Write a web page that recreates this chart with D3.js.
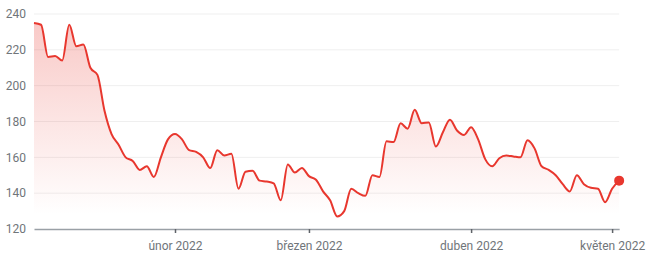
<!DOCTYPE html>
<html>
<head>
<meta charset="utf-8">
<script src="https://cdn.jsdelivr.net/npm/d3@7"></script>
<style>
  html, body { margin: 0; padding: 0; background: #fff; }
  svg { display: block; }
  text { font-family: Roboto, "Noto Sans", sans-serif; }
</style>
</head>
<body>
<svg id="chart" width="650" height="260"></svg>
<script>
// Daily closing values (trading days, 3 Jan 2022 .. 3 May 2022)
const values = [
  235, 234, 216, 216.5, 214, 234, 222, 223, 210, 206,
  186, 173, 167, 160, 158, 153, 155, 149, 160, 170,
  173, 170, 164, 163, 160, 154, 164, 161, 162, 142.5,
  152, 152.5, 147, 146.5, 145.5, 136, 156, 151.5, 154, 149.5,
  147.5, 141, 136, 127, 130, 142.5, 140, 138.5, 150, 149,
  169, 168.5, 179, 176, 186.5, 179, 179.5, 166, 174, 181,
  175, 172.5, 176.8, 170, 159, 155, 159.5, 161, 160.5, 160,
  169.5, 165, 155, 153, 150, 145, 141, 150, 145, 143,
  142.5, 135, 142.5, 147
];
// Month tick labels and the trading-day index where each month starts
const tickLabels = ["únor 2022", "březen 2022", "duben 2022", "květen 2022"];
const tickIndex = [20, 39, 62, 82];
const yTicks = [120, 140, 160, 180, 200, 220, 240];

const svg = d3.select("#chart");
const mLeft = 34, mRight = 619.15, mTop = 14, mBottom = 229;
const red = "#e8372e";

const x = d3.scaleLinear().domain([0, values.length - 1]).range([mLeft, mRight]);
const y = d3.scaleLinear().domain([120, 240]).range([mBottom, mTop]);

// gradient
const defs = svg.append("defs");
const grad = defs.append("linearGradient")
  .attr("id", "fillGrad")
  .attr("gradientUnits", "userSpaceOnUse")
  .attr("x1", 0).attr("x2", 0)
  .attr("y1", y(240)).attr("y2", y(128));
grad.append("stop").attr("offset", 0).attr("stop-color", red).attr("stop-opacity", 0.28);
grad.append("stop").attr("offset", 1).attr("stop-color", red).attr("stop-opacity", 0.0);

// grid lines
svg.append("g")
  .selectAll("line")
  .data(yTicks.filter(d => d !== 120))
  .join("line")
  .attr("x1", mLeft).attr("x2", mRight)
  .attr("y1", d => y(d)).attr("y2", d => y(d))
  .attr("stroke", "#efefef")
  .attr("stroke-width", 1);

// y labels
svg.append("g")
  .selectAll("text")
  .data(yTicks)
  .join("text")
  .attr("x", 26)
  .attr("y", d => y(d))
  .attr("dy", "0.35em")
  .attr("text-anchor", "end")
  .attr("font-size", 12)
  .attr("fill", "#70757a")
  .text(d => d);

const curve = d3.curveMonotoneX;

// area
const area = d3.area()
  .x((d, i) => x(i))
  .y0(mBottom)
  .y1(d => y(d))
  .curve(curve);
svg.append("path")
  .datum(values)
  .attr("d", area)
  .attr("fill", "url(#fillGrad)");

// x axis
const xAxis = d3.axisBottom(x)
  .tickValues(tickIndex)
  .tickFormat((d, i) => tickLabels[i])
  .tickSize(4)
  .tickSizeOuter(0);
const gx = svg.append("g")
  .attr("transform", `translate(0,${mBottom})`)
  .call(xAxis);
gx.select(".domain").attr("stroke", "#9aa0a6").attr("stroke-width", 1.5);
gx.selectAll(".tick line").attr("stroke", "#5f6368").attr("stroke-width", 1.5);
gx.selectAll(".tick text")
  .attr("font-family", "Roboto, 'Noto Sans', sans-serif")
  .attr("font-size", 12)
  .attr("fill", "#70757a")
  .attr("y", 12);

// line
const line = d3.line()
  .x((d, i) => x(i))
  .y(d => y(d))
  .curve(curve);
svg.append("path")
  .datum(values)
  .attr("d", line)
  .attr("fill", "none")
  .attr("stroke", red)
  .attr("stroke-width", 2)
  .attr("stroke-linejoin", "round");

// end dot
const last = values.length - 1;
svg.append("circle")
  .attr("cx", x(last))
  .attr("cy", y(values[last]))
  .attr("r", 5)
  .attr("fill", red);
</script>
</body>
</html>
